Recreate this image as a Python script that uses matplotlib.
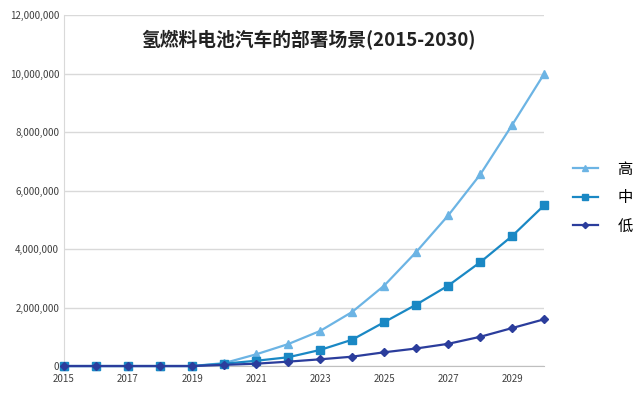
import matplotlib
matplotlib.use('Agg')
import matplotlib.pyplot as plt
from matplotlib.ticker import FuncFormatter

plt.rcParams['font.family'] = ['Noto Sans CJK SC', 'DejaVu Sans']

years = list(range(2015, 2031))
high = [0, 0, 0, 0, 0, 100000, 400000, 750000, 1200000, 1850000, 2750000,
        3900000, 5150000, 6550000, 8250000, 10000000]
mid = [0, 0, 0, 0, 0, 80000, 180000, 300000, 550000, 900000, 1500000,
       2100000, 2750000, 3550000, 4450000, 5500000]
low = [0, 0, 0, 0, 0, 40000, 80000, 150000, 230000, 320000, 470000,
       600000, 760000, 1000000, 1300000, 1600000]
labels = ['高', '中', '低']
title = '氢燃料电池汽车的部署场景(2015-2030)'

fig = plt.figure(figsize=(6.43, 3.97), dpi=100)
ax = fig.add_axes([0.0995, 0.078, 0.747, 0.884])

ax.plot(years, high, color='#6cb4e4', marker='^', markersize=6, lw=1.6,
        label=labels[0], clip_on=False, zorder=3)
ax.plot(years, mid, color='#1a88c4', marker='s', markersize=6, lw=1.6,
        label=labels[1], clip_on=False, zorder=4)
ax.plot(years, low, color='#2b3d9c', marker='D', markersize=4.5, lw=1.6,
        label=labels[2], clip_on=False, zorder=5)

ax.set_xlim(2015, 2030)
ax.set_ylim(0, 12000000)
ax.set_xticks(range(2015, 2030, 2))
ax.set_yticks(range(0, 12000001, 2000000))
ax.yaxis.set_major_formatter(FuncFormatter(lambda v, p: f'{int(v):,}'))
ax.tick_params(labelsize=7, colors='#404040', length=0)
ax.tick_params(axis='x', pad=6)
ax.grid(axis='y', color='#d9d9d9', lw=1)
ax.set_axisbelow(True)
for s in ['top', 'right']:
    ax.spines[s].set_visible(False)
ax.spines['left'].set_color('#d9d9d9')
ax.spines['bottom'].set_color('#bfbfbf')

ax.text(0.51, 0.93, title, transform=ax.transAxes, ha='center', va='center',
        fontsize=13.5, fontweight='bold', color='#222222')

fig.legend(loc='center left', bbox_to_anchor=(0.87, 0.502), frameon=False,
           fontsize=11, handlelength=1.6, handletextpad=1.3,
           labelspacing=0.75, markerscale=0.7)

fig.savefig('out.png', dpi=100)
